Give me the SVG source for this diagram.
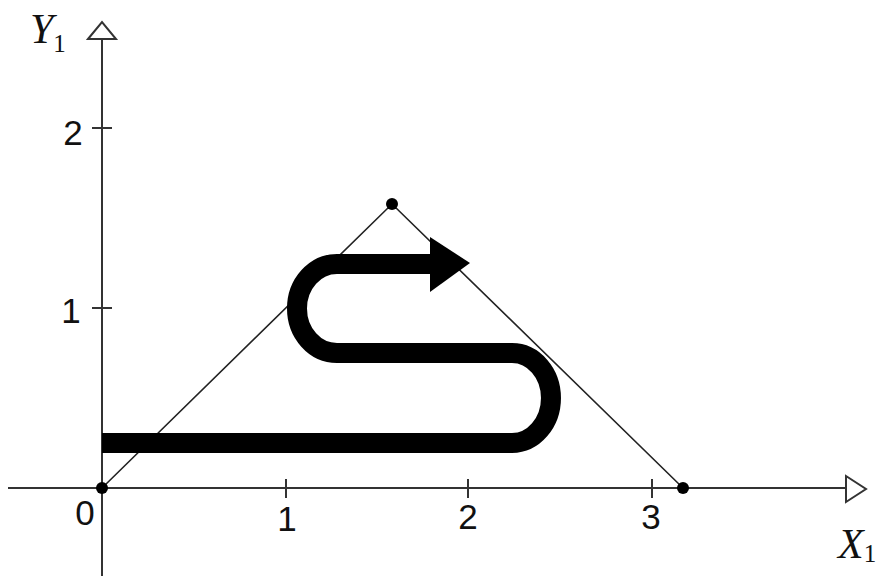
<svg xmlns="http://www.w3.org/2000/svg" width="882" height="576" viewBox="0 0 882 576">
<style>
.axis{stroke:#333;stroke-width:2;fill:none}
.tick{stroke:#333;stroke-width:2}
.tri{stroke:#222;stroke-width:1.6;fill:none}
.num{font-family:"Liberation Sans",Arial,sans-serif;font-size:35px;fill:#111}
.var{font-family:"Liberation Serif","Times New Roman",serif;font-style:italic;font-size:42px;fill:#111}
.sub{font-family:"Liberation Serif","Times New Roman",serif;font-size:25px;fill:#111}
.dot{fill:#000}
</style>
<rect width="882" height="576" fill="#fff"/>
<g id="axes">
<line class="axis" x1="8" y1="488" x2="846" y2="488"/>
<polygon class="axis" points="846,476 866,489 846,502"/>
<line class="axis" x1="102" y1="576" x2="102" y2="39"/>
<polygon class="axis" points="88,39 102,22 116,39"/>
<line class="tick" x1="286" y1="479" x2="286" y2="498"/>
<line class="tick" x1="468" y1="479" x2="468" y2="498"/>
<line class="tick" x1="652" y1="479" x2="652" y2="498"/>
<line class="tick" x1="92" y1="308" x2="112" y2="308"/>
<line class="tick" x1="92" y1="128" x2="112" y2="128"/>
</g>
<g id="labels">
<text class="num" x="85" y="525" text-anchor="middle">0</text>
<text class="num" x="287" y="531" text-anchor="middle">1</text>
<text class="num" x="468" y="529" text-anchor="middle">2</text>
<text class="num" x="651" y="529" text-anchor="middle">3</text>
<text class="num" x="73" y="145" text-anchor="middle">2</text>
<text class="num" x="71" y="323" text-anchor="middle">1</text>
<text x="30" y="43"><tspan class="var">Y</tspan><tspan class="sub" dy="9">1</tspan></text>
<text x="838" y="558"><tspan class="var">X</tspan><tspan class="sub" dy="4">1</tspan></text>
</g>
<g id="triangle">
<polyline class="tri" points="102,488 392,204 683,488"/>
<circle class="dot" cx="102" cy="488" r="6"/>
<circle class="dot" cx="392" cy="204" r="6"/>
<circle class="dot" cx="683" cy="488" r="6"/>
</g>
<g id="connectors">
<path d="M102,443 H512 A39,45 0 0 0 512,353 H337 A40,44.5 0 0 1 337,264 H432" fill="none" stroke="#000" stroke-width="20"/>
<polygon points="430,237 470,263 430,292" fill="#000"/>
</g>
</svg>
